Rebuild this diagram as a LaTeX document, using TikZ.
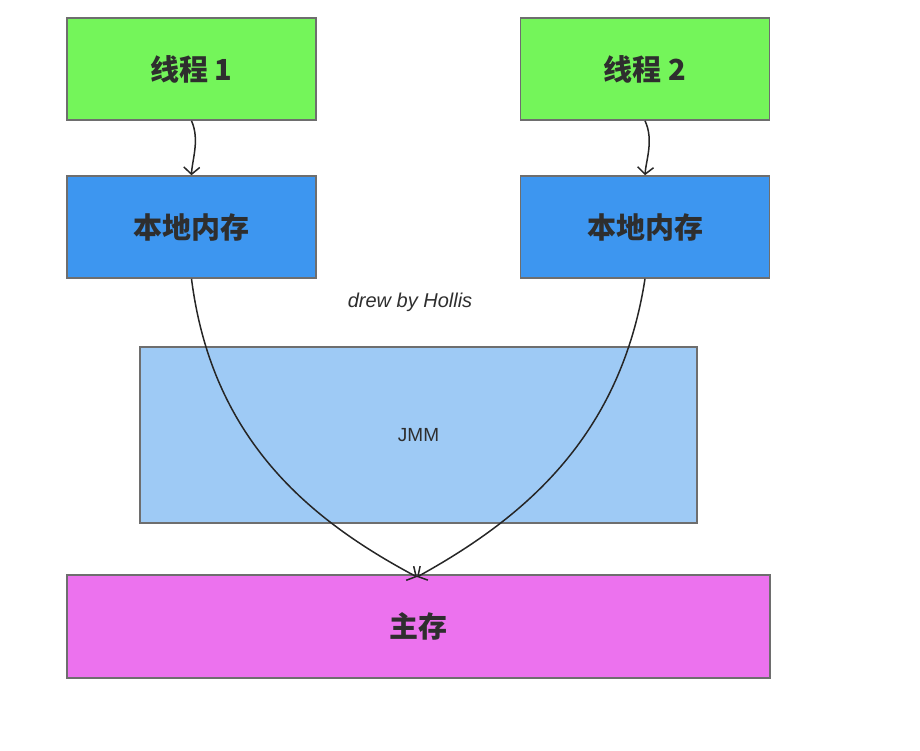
\documentclass[tikz,border=0pt]{standalone}
\usepackage{fontspec}
\setmainfont{Liberation Sans}
\newfontfamily\cjk{Noto Sans CJK SC}
\usetikzlibrary{arrows.meta}
\definecolor{thrgreen}{HTML}{74F55A}
\definecolor{locblue}{HTML}{3D96F0}
\definecolor{jmmblue}{HTML}{9ECAF5}
\definecolor{mainpink}{HTML}{EC72EE}
\definecolor{txtgray}{HTML}{2E2E2E}
\definecolor{edgegray}{HTML}{6E6E6E}
\begin{document}
\begin{tikzpicture}[x=1pt,y=-1pt,
  box/.style={draw=edgegray,line width=1.6pt,inner sep=0pt,text=txtgray,font=\cjk\bfseries\fontsize{29}{32}\selectfont},
  smallbox/.style={box,minimum width=249pt,minimum height=102pt},
  conn/.style={draw=black!85,line width=1.5pt,-{Straight Barb[length=7pt,width=16pt]}}]
\useasboundingbox (0,0) rectangle (920,750);
\node[smallbox,fill=thrgreen] (t1) at (191.5,69) {线程 1};
\node[smallbox,fill=thrgreen] (t2) at (645,69) {线程 2};
\node[smallbox,fill=locblue] (l1) at (191.5,227) {本地内存};
\node[smallbox,fill=locblue] (l2) at (645,227) {本地内存};
\node[box,fill=jmmblue,minimum width=557pt,minimum height=176pt,font=\fontsize{19}{22}\selectfont] (jmm) at (418.5,435) {JMM};
\node[box,fill=mainpink,minimum width=703pt,minimum height=103pt] (mm) at (418.5,626.5) {主存};
\node[text=txtgray,font=\fontsize{20}{24}\selectfont\itshape] (sig) at (410,302) {drew by Hollis};
\coordinate (mt) at (417,577);
\draw[conn] (t1.south) .. controls (200,140) and (192,160) .. (t1.south |- l1.north);
\draw[conn] (t2.south) .. controls (654,140) and (646,160) .. (t2.south |- l2.north);
\draw[conn] (l1.south) .. controls (212,440) and (310,520) .. (mt);
\draw[conn] (l2.south) .. controls (620,440) and (520,520) .. (mt);
\end{tikzpicture}
\end{document}
